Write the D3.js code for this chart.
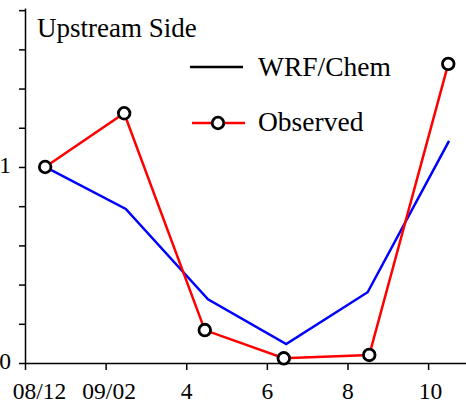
<!DOCTYPE html>
<html>
<head>
<meta charset="utf-8">
<script src="https://cdn.jsdelivr.net/npm/d3@7"></script>
<style>
  html, body { margin: 0; padding: 0; background: #fff; }
  svg { display: block; }
</style>
</head>
<body>
<svg id="chart" width="466" height="403"></svg>
<script>
// ---- data ----
const xTickPositions = [0, 1, 2, 3, 4, 5];
const xTickLabels = ["08/12", "09/02", "4", "6", "8", "10"];
const yTickValues = [0, 0.2, 0.4, 0.6, 0.8, 1.0, 1.2, 1.4, 1.6, 1.8];
const yTickLabels = ["0", "", "", "", "", "1", "", "", "", ""];
const obsX = [0.25, 1.23, 2.23, 3.21, 4.27, 5.25];
const observed = [1.0, 1.274, 0.168, 0.024, 0.041, 1.526];
const modelX = [0.25, 1.25, 2.27, 3.24, 4.25, 5.26];
const wrfChem = [1.0, 0.786, 0.325, 0.097, 0.361, 1.133];
const seriesNames = ["WRF/Chem", "Observed"];
const title = "Upstream Side";

// ---- layout ----
const FONT = '"Liberation Serif", "Times New Roman", Times, serif';
const svg = d3.select("#chart");
const x = d3.scaleLinear().domain([0, 5.47]).range([25, 466]);
const y = d3.scaleLinear().domain([0, 1.811]).range([363, 8]);
const xLabelShift = [14, 3, 0, 0, 0, 2];

// axes
const xAxis = d3.axisBottom(x).tickValues(xTickPositions)
  .tickFormat((d, i) => xTickLabels[i]).tickSize(7).tickSizeOuter(0);
const gx = svg.append("g").attr("transform", `translate(0,${y(0)})`).call(xAxis);
gx.select(".domain").attr("stroke", "#000").attr("stroke-width", 1.5);
gx.selectAll(".tick line").attr("stroke", "#000").attr("stroke-width", 1.5);
gx.selectAll(".tick text").style("font-family", FONT).attr("font-size", 23.5)
  .attr("y", 19.3).attr("dy", "0.71em").attr("dx", (d, i) => xLabelShift[i]);

const yAxis = d3.axisLeft(y).tickValues(yTickValues)
  .tickFormat((d, i) => yTickLabels[i]).tickSize(6).tickSizeOuter(0);
const gy = svg.append("g").attr("transform", `translate(${x(0)},0)`).call(yAxis);
gy.select(".domain").attr("stroke", "#000").attr("stroke-width", 1.5);
gy.selectAll(".tick line").attr("stroke", "#000").attr("stroke-width", 1.5);
gy.selectAll(".tick text").style("font-family", FONT).attr("font-size", 23.5)
  .attr("x", -14).attr("dy", "0.25em");

// lines
const lineM = d3.line().x((d, i) => x(modelX[i])).y(d => y(d));
const lineO = d3.line().x((d, i) => x(obsX[i])).y(d => y(d));
svg.append("path").datum(wrfChem).attr("d", lineM)
  .attr("fill", "none").attr("stroke", "#0000ff").attr("stroke-width", 2.5);
svg.append("path").datum(observed).attr("d", lineO)
  .attr("fill", "none").attr("stroke", "#ff0000").attr("stroke-width", 2.5);
svg.selectAll("circle.obs").data(observed).enter().append("circle")
  .attr("class", "obs")
  .attr("cx", (d, i) => x(obsX[i])).attr("cy", d => y(d)).attr("r", 5.8)
  .attr("fill", "#fff").attr("stroke", "#000").attr("stroke-width", 2.8);

// title
svg.append("text").attr("x", 37).attr("y", 36.5).style("font-family", FONT)
  .attr("font-size", 27).text(title);

// legend
svg.append("line").attr("x1", 190).attr("x2", 243).attr("y1", 67).attr("y2", 67)
  .attr("stroke", "#000").attr("stroke-width", 2.5);
svg.append("text").attr("x", 258).attr("y", 75.5).style("font-family", FONT)
  .attr("font-size", 27.5).text(seriesNames[0]);
svg.append("line").attr("x1", 192).attr("x2", 245).attr("y1", 123).attr("y2", 123)
  .attr("stroke", "#ff0000").attr("stroke-width", 2.5);
svg.append("circle").attr("cx", 218).attr("cy", 123).attr("r", 5.8)
  .attr("fill", "#fff").attr("stroke", "#000").attr("stroke-width", 2.8);
svg.append("text").attr("x", 258).attr("y", 130.5).style("font-family", FONT)
  .attr("font-size", 27.5).text(seriesNames[1]);
</script>
</body>
</html>
